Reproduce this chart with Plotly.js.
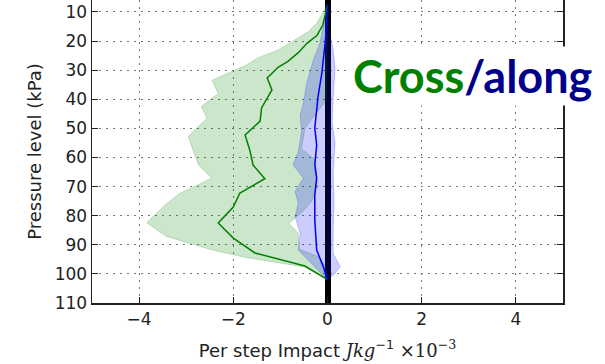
<!DOCTYPE html>
<html>
<head>
<meta charset="utf-8">
<script src="https://cdn.plot.ly/plotly-3.0.1.min.js"></script>
<style>
  html, body { margin: 0; padding: 0; background: #fff; }
  #chart { width: 605px; height: 364px; }
</style>
</head>
<body>
<div id="chart"></div>
<script>
// Cross-track mean impact profile (green) and its spread
const crossY   = [7.5, 11, 14.5, 18, 20.7, 24, 27, 29, 32.7, 36.8, 40, 43, 47.5, 52.3, 57.5, 62.6, 67.3, 72.2, 77, 82.5, 87.7, 91, 92.8, 97.3, 102];
const crossX   = [0, -0.05, -0.1, -0.22, -0.43, -0.62, -0.84, -1.05, -1.28, -1.18, -1.3, -1.4, -1.43, -1.75, -1.65, -1.58, -1.33, -1.86, -2.0, -2.32, -2.0, -1.7, -1.54, -0.48, 0];
const crossLoY = [7.5, 11, 13.9, 16.8, 19.6, 23.1, 25.8, 28.2, 33.5, 38, 42.5, 46.5, 52.8, 57.4, 62.6, 67.1, 72.3, 76.3, 82.4, 87.2, 90, 92, 94.3, 97.7, 102];
const crossLoX = [0, -0.12, -0.23, -0.41, -0.69, -1.05, -1.48, -1.72, -2.45, -2.32, -2.68, -2.56, -2.96, -2.85, -2.74, -2.46, -3.13, -3.45, -3.84, -3.41, -2.85, -2.4, -1.75, -0.46, 0];
const crossHiY = [7.5, 40, 44, 50, 57, 61, 70, 75, 79, 82.6, 86, 91.5, 94, 97, 102];
const crossHiX = [0, -0.02, -0.2, -0.48, -0.55, -0.25, -0.22, -0.33, -0.55, -0.82, -0.62, -0.6, -0.2, -0.05, 0];

// Along-track mean impact profile (blue) and its spread
const alongY   = [7.5, 10.5, 20.7, 31, 39, 44.3, 49.9, 55.7, 62.6, 67.1, 72.9, 81.5, 91.8, 97.5, 102];
const alongX   = [0, 0, -0.05, -0.12, -0.2, -0.23, -0.27, -0.23, -0.27, -0.23, -0.27, -0.27, -0.23, -0.09, 0];
const alongLoY = [7.5, 20.7, 26.5, 34.4, 41.3, 45.4, 51.1, 58, 62.6, 67.1, 71.7, 75.7, 80.3, 86, 91.8, 94.1, 102];
const alongLoX = [0, -0.16, -0.3, -0.44, -0.51, -0.58, -0.55, -0.62, -0.73, -0.51, -0.69, -0.62, -0.69, -0.58, -0.62, -0.48, 0];
const alongHiY = [7.5, 15, 23, 29, 40, 48, 55, 65, 75, 85, 93, 97.5, 100, 102];
const alongHiX = [0, 0.02, 0.12, 0.16, 0.12, 0.1, 0.16, 0.12, 0.14, 0.12, 0.12, 0.27, 0.15, 0];

const pressureTicks = [10, 20, 30, 40, 50, 60, 70, 80, 90, 100, 110];
const impactTicks = [-4, -2, 0, 2, 4];

// closed outline: lower bound downwards, upper bound back up
function band(loX, loY, hiX, hiY) {
  return {
    x: loX.concat(hiX.slice().reverse()),
    y: loY.concat(hiY.slice().reverse())
  };
}

const gBand = band(crossLoX, crossLoY, crossHiX, crossHiY);
const bBand = band(alongLoX, alongLoY, alongHiX, alongHiY);

const traces = [
  { x: gBand.x, y: gBand.y, mode: 'lines', fill: 'toself',
    fillcolor: 'rgba(0,128,0,0.2)', line: { color: 'rgba(0,128,0,0.2)', width: 1 },
    hoverinfo: 'skip', showlegend: false },
  { x: bBand.x, y: bBand.y, mode: 'lines', fill: 'toself',
    fillcolor: 'rgba(0,0,255,0.2)', line: { color: 'rgba(0,0,255,0.2)', width: 1 },
    hoverinfo: 'skip', showlegend: false },
  { x: crossX, y: crossY, mode: 'lines', line: { color: '#008000', width: 1.5 }, showlegend: false },
  { x: alongX, y: alongY, mode: 'lines', line: { color: '#0000ff', width: 1.5 }, showlegend: false }
];

const axisFont = { family: 'DejaVu Sans', size: 17, color: '#222' };

const layout = {
  width: 605, height: 364,
  margin: { l: 92, r: 42, t: 0, b: 61 },
  paper_bgcolor: '#fff', plot_bgcolor: '#fff',
  showlegend: false,
  xaxis: {
    range: [-5, 5], autorange: false,
    tickvals: impactTicks,
    ticks: 'inside', ticklen: 6, tickcolor: '#222',
    showline: true, linecolor: '#222', linewidth: 1.5, mirror: false,
    showgrid: true, gridcolor: '#777', gridwidth: 1, griddash: '2px,5px',
    zeroline: true, zerolinecolor: '#000', zerolinewidth: 6,
    layer: 'above traces',
    tickfont: axisFont,
    title: {
      text: 'Per step Impact <span style="font-family:\'DejaVu Serif\';font-style:italic">Jkg</span><sup>−1</sup> <span style="font-family:\'DejaVu Serif\'">×10<sup>−3</sup></span>',
      font: { family: 'DejaVu Sans', size: 18, color: '#222' },
      standoff: 16
    }
  },
  yaxis: {
    range: [110, 5.9], autorange: false,
    tickvals: pressureTicks,
    ticks: 'inside', ticklen: 6, tickcolor: '#222',
    showline: true, linecolor: '#222', linewidth: 1.5, mirror: 'ticks',
    showgrid: true, gridcolor: '#777', gridwidth: 1, griddash: '2px,5px',
    zeroline: false,
    layer: 'above traces',
    tickfont: axisFont,
    title: {
      text: 'Pressure level (kPa)',
      font: { family: 'DejaVu Sans', size: 18, color: '#222' },
      standoff: 8
    }
  },
  annotations: [{
    xref: 'paper', yref: 'paper', x: 0.548, y: 0.75,
    xanchor: 'left', yanchor: 'middle', showarrow: false,
    bgcolor: '#fff', borderpad: 2,
    font: { family: 'Lato', size: 45, weight: 700 },
    text: '<span style="color:#008000">Cross</span><span style="color:#00008b">/along</span>'
  }]
};

Plotly.newPlot('chart', traces, layout, { staticPlot: true, displayModeBar: false });
</script>
</body>
</html>
